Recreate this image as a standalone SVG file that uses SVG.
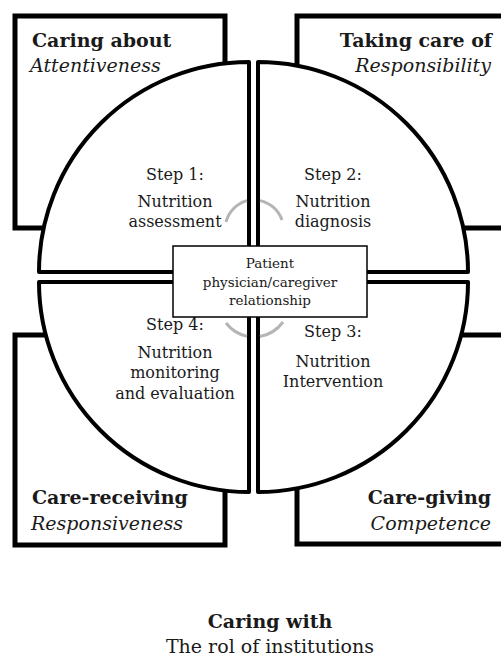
<svg xmlns="http://www.w3.org/2000/svg" width="501" height="657" viewBox="0 0 501 657">
<style>
.box{fill:#fff;stroke:#000;stroke-width:5;stroke-linejoin:miter}
.q{fill:#fff;stroke:#000;stroke-width:4;stroke-linejoin:round}
.t{font-family:"DejaVu Serif","Liberation Serif",serif;fill:#1a1a1a}
.h{font-size:19px;font-weight:bold}
.i{font-size:19px;font-style:italic}
.s{font-size:16px;text-anchor:middle}
.c{font-size:13.5px;text-anchor:middle}
.e{text-anchor:end}
.m{text-anchor:middle}
.arc{fill:none;stroke:#b5b5b5;stroke-width:3}
</style>
<g id="caring-about">
<rect class="box" x="15" y="16" width="210" height="212"/>
<text class="t h" x="32" y="47">Caring about</text>
<text class="t i" x="30" y="72">Attentiveness</text>
</g>
<g id="taking-care-of">
<rect class="box" x="297" y="16" width="230" height="212"/>
<text class="t h e" x="492" y="47">Taking care of</text>
<text class="t i e" x="491" y="72">Responsibility</text>
</g>
<g id="care-receiving">
<rect class="box" x="15" y="335" width="210" height="210"/>
<text class="t h" x="32" y="504">Care-receiving</text>
<text class="t i" x="31" y="530">Responsiveness</text>
</g>
<g id="care-giving">
<rect class="box" x="297" y="335" width="230" height="209"/>
<text class="t h e" x="491" y="504">Care-giving</text>
<text class="t i e" x="491" y="530">Competence</text>
</g>
<g id="step1">
<path class="q" d="M249,272 H39 A210,210 0 0 1 249,62 Z"/>
<text class="t s" x="175" y="180">Step 1:</text>
<text class="t s" x="175" y="207">Nutrition</text>
<text class="t s" x="175" y="227">assessment</text>
</g>
<g id="step2">
<path class="q" d="M258,272 V62 A210,210 0 0 1 468,272 Z"/>
<text class="t s" x="333" y="180">Step 2:</text>
<text class="t s" x="333" y="207">Nutrition</text>
<text class="t s" x="333" y="227">diagnosis</text>
</g>
<g id="step4">
<path class="q" d="M249,282 H39 A210,210 0 0 0 249,492 Z"/>
<text class="t s" x="175" y="330">Step 4:</text>
<text class="t s" x="175" y="358">Nutrition</text>
<text class="t s" x="175" y="378">monitoring</text>
<text class="t s" x="175" y="399">and evaluation</text>
</g>
<g id="step3">
<path class="q" d="M258,282 H468 A210,210 0 0 1 258,492 Z"/>
<text class="t s" x="333" y="337">Step 3:</text>
<text class="t s" x="333" y="367">Nutrition</text>
<text class="t s" x="333" y="387">Intervention</text>
</g>
<g id="connectors">
<path class="arc" d="M226,222 A30,30 0 0 1 247,200.6"/>
<path class="arc" d="M260,200.6 A30,30 0 0 1 282,220"/>
<path class="arc" d="M226,323 A37,37 0 0 0 247,336.3"/>
<path class="arc" d="M260,336.5 A37,37 0 0 0 283,322"/>
</g>
<g id="center">
<rect x="173" y="246" width="194" height="71" fill="#fff" stroke="#000" stroke-width="1.5"/>
<text class="t c" x="270" y="268">Patient</text>
<text class="t c" x="270" y="287">physician/caregiver</text>
<text class="t c" x="270" y="305">relationship</text>
</g>
<g id="caring-with">
<text class="t h m" x="270" y="628">Caring with</text>
<text class="t m" x="270" y="653" font-size="19">The rol of institutions</text>
</g>
</svg>
